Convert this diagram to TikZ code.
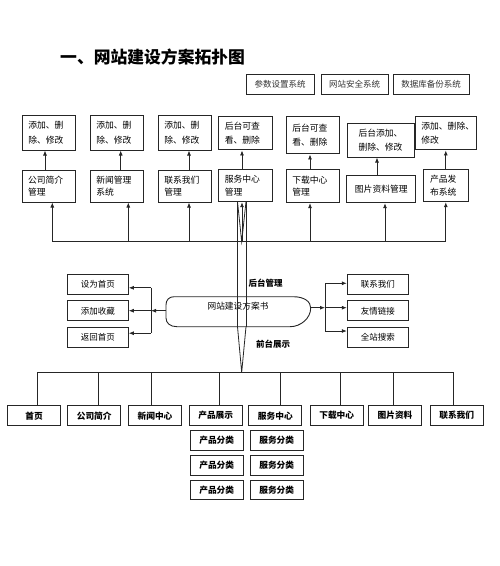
\documentclass[tikz,border=0pt]{standalone}
\usepackage{fontspec}
\setmainfont{Noto Sans CJK SC}
\usetikzlibrary{arrows.meta}
\begin{document}
\begin{tikzpicture}[x=1pt,y=-1pt,
  box/.style={draw=black!85, line width=1pt, inner sep=0pt},
  ta/.style={box, font=\fontsize{8.8}{14.5}\selectfont, align=left},
  tb/.style={box, font=\fontsize{8.8}{12.5}\selectfont, align=left},
  sbox/.style={box, font=\fontsize{8.5}{10}\selectfont, minimum height=20pt, text=black!80},
  bbox/.style={box, font=\bfseries\fontsize{8.7}{10}\selectfont, minimum width=53.3pt, minimum height=20pt},
  subbox/.style={box, font=\bfseries\fontsize{8.7}{10}\selectfont, minimum width=53.3pt, minimum height=19.5pt},
  lbl/.style={font=\bfseries\fontsize{8.5}{10}\selectfont, inner sep=0pt},
  ln/.style={draw=black!85, line width=0.8pt},
  arr/.style={ln, -{Latex[length=5pt,width=4pt]}}
]
\useasboundingbox (0,0) rectangle (500,566);

% title
\node[anchor=west, font=\bfseries\fontsize{16.8}{18}\selectfont, inner sep=0pt] (title) at (60,57.5) {一、网站建设方案拓扑图};

% top right systems
\node[sbox, minimum width=68pt] (s1) at (280,84) {参数设置系统};
\node[sbox, minimum width=67pt] (s2) at (354.5,84) {网站安全系统};
\node[sbox, minimum width=76pt] (s3) at (431,84) {数据库备份系统};

% row 1
\node[ta, minimum width=53.3pt, minimum height=35pt, text width=42pt] (a1) at (49.3,132.5) {添加、删\\除、修改};
\node[ta, minimum width=53.3pt, minimum height=35pt, text width=42pt] (a2) at (117.3,132.5) {添加、删\\除、修改};
\node[ta, minimum width=53.3pt, minimum height=35pt, text width=42pt] (a3) at (185.3,132.5) {添加、删\\除、修改};
\node[ta, minimum width=53.7pt, minimum height=33.3pt, text width=42pt] (a4) at (245.8,133.3) {后台可查\\看、删除};
\node[ta, minimum width=53.3pt, minimum height=37.3pt, text width=42pt] (a5) at (313.3,135.3) {后台可查\\看、删除};
\node[ta, align=center, minimum width=67pt, minimum height=34pt, text width=50pt] (a6) at (380.5,140) {后台添加、\\删除、修改};
\node[ta, minimum width=60.7pt, minimum height=33.3pt, text width=50pt] (a7) at (446.3,133.3) {添加、删除、\\修改};

% row 2
\node[tb, minimum width=52.7pt, minimum height=32pt, text width=42pt] (b1) at (49,186) {公司简介\\管理};
\node[tb, minimum width=53.3pt, minimum height=32pt, text width=42pt] (b2) at (117.3,186) {新闻管理\\系统};
\node[tb, minimum width=53.3pt, minimum height=32pt, text width=42pt] (b3) at (185.3,186) {联系我们\\管理};
\node[tb, minimum width=53.7pt, minimum height=32.4pt, text width=42pt] (b4) at (245.8,185.5) {服务中心\\管理};
\node[tb, minimum width=53.3pt, minimum height=32.7pt, text width=42pt] (b5) at (313.3,186.3) {下载中心\\管理};
\node[tb, align=center, minimum width=68.7pt, minimum height=27pt] (b6) at (381.3,189.2) {图片资料管理};
\node[tb, minimum width=45pt, minimum height=32.4pt, text width=31.6pt] (b7) at (445.8,185.5) {产品发\\布系统};

% row2 -> row1 arrows
\draw[arr] ([xshift=-4pt]b1.north) -- ([xshift=-4pt]b1.north |- a1.south);
\draw[arr] ([xshift=3.4pt]b2.north) -- ([xshift=3.4pt]b2.north |- a2.south);
\draw[arr] ([xshift=3.7pt]b3.north) -- ([xshift=3.7pt]b3.north |- a3.south);
\draw[arr] ([xshift=-3.8pt]b4.north) -- ([xshift=-3.8pt]b4.north |- a4.south);
\draw[arr] ([xshift=-3.3pt]b5.north) -- ([xshift=-3.3pt]b5.north |- a5.south);
\draw[arr] ([xshift=-4.3pt]b6.north) -- ([xshift=-4.3pt]b6.north |- a6.south);
\draw[arr] (b7.north) -- (b7.north |- a7.south);

% upper bus
\coordinate (busL) at (52.3,241.7);
\coordinate (busR) at (445.7,241.7);
\draw[ln] (busL) -- (busR);
\draw[arr] ([xshift=3.3pt]b1.south |- busL) -- ([xshift=3.3pt]b1.south);
\draw[arr] ([xshift=11pt]b2.south |- busL) -- ([xshift=11pt]b2.south);
\draw[arr] ([xshift=3.7pt]b3.south |- busL) -- ([xshift=3.7pt]b3.south);
\draw[arr] ([xshift=-3.8pt]b4.south |- busL) -- ([xshift=-3.8pt]b4.south);
\draw[arr] ([xshift=-3.3pt]b5.south |- busL) -- ([xshift=-3.3pt]b5.south);
\draw[arr] ([xshift=3.7pt]b6.south |- busL) -- ([xshift=3.7pt]b6.south);
\draw[arr] (b7.south |- busL) -- (b7.south);

% central plan shape
\node[font=\fontsize{8.7}{10}\selectfont, inner sep=0pt] (plan) at (238,306.5) {网站建设方案书};
\draw[ln, line width=0.9pt] (174,296.7) -- (293,296.7) .. controls (305,296.7) and (310.7,302) .. (310.7,308)
  .. controls (310.7,318) and (301,326.7) .. (290,326.7) -- (177,326.7)
  .. controls (170,326.7) and (166,323) .. (166,318) -- (166,305)
  .. controls (166,300) and (169,296.7) .. (174,296.7) -- cycle;

% double trunk lines
\coordinate (tL) at (237.5,201.7);
\coordinate (tR) at (246,201.7);
\coordinate (mL) at (237.5,326.7);
\coordinate (mR) at (246,326.7);
\coordinate (apU) at (241.7,241.7);
\coordinate (apD) at (241.7,372.3);
\draw[ln] (tL) -- (mL);
\draw[ln] (tR) -- (mR);
\draw[ln] (tL) -- (apU) -- (tR);
\draw[ln] (mL) -- (apD) -- (mR);

% labels
\node[lbl] (bg) at (265.5,283) {后台管理};
\node[lbl] (fg) at (273,344.3) {前台展示};

% left boxes
\node[sbox, text=black, minimum width=60.6pt] (l1) at (98,284.2) {设为首页};
\node[sbox, text=black, minimum width=60.6pt] (l2) at (98,310.9) {添加收藏};
\node[sbox, text=black, minimum width=60.6pt] (l3) at (98,337.2) {返回首页};
\coordinate (pW) at (166,310.7);
\coordinate (jL) at (151,310.7);
\coordinate (jLt) at (151,287.8);
\coordinate (jLb) at (151,333.2);
\draw[arr] (pW) -- (jL);
\draw[ln] (jLt) -- (jLb);
\draw[arr] (jLt) -- (jLt -| l1.east);
\draw[arr] (jL) -- (jL -| l2.east);
\draw[arr] (jLb) -- (jLb -| l3.east);

% right boxes
\node[sbox, text=black, minimum width=61pt] (r1) at (377.8,284.3) {联系我们};
\node[sbox, text=black, minimum width=61pt] (r2) at (377.8,310.9) {友情链接};
\node[sbox, text=black, minimum width=61pt] (r3) at (377.8,337.2) {全站搜索};
\coordinate (pE) at (310.7,307.7);
\coordinate (jR) at (325,307.7);
\coordinate (jRt) at (325,283.3);
\coordinate (jRb) at (325,331);
\draw[arr] (pE) -- (jR);
\draw[ln] (jRt) -- (jRb);
\draw[arr] (jRt) -- (jRt -| r1.west);
\draw[arr] (jR) -- (jR -| r2.west);
\draw[arr] (jRb) -- (jRb -| r3.west);

% bottom row
\node[bbox] (c1) at (34,415.7) {首页};
\node[bbox] (c2) at (94.2,415.7) {公司简介};
\node[bbox] (c3) at (155,415.7) {新闻中心};
\node[bbox] (c4) at (215.7,415.7) {产品展示};
\node[bbox] (c5) at (275.3,415.7) {服务中心};
\node[bbox] (c6) at (336.7,415.7) {下载中心};
\node[bbox] (c7) at (395,415.7) {图片资料};
\node[bbox] (c8) at (456.7,415.7) {联系我们};

\node[subbox] (p1) at (216.7,440.3) {产品分类};
\node[subbox] (p2) at (216.7,465.3) {产品分类};
\node[subbox] (p3) at (216.7,490) {产品分类};
\node[subbox] (q1) at (276.7,440.3) {服务分类};
\node[subbox] (q2) at (276.7,465.3) {服务分类};
\node[subbox] (q3) at (276.7,490) {服务分类};

% lower bus
\coordinate (bbL) at (37.3,372.3);
\coordinate (bbR) at (453.3,372.3);
\draw[ln] (bbL) -- (bbR);
\draw[ln] ([xshift=3.3pt]c1.north |- bbL) -- ([xshift=3.3pt]c1.north);
\draw[ln] ([xshift=4.1pt]c2.north |- bbL) -- ([xshift=4.1pt]c2.north);
\draw[ln] ([xshift=-3.3pt]c3.north |- bbL) -- ([xshift=-3.3pt]c3.north);
\draw[ln] ([xshift=3.3pt]c4.north |- bbL) -- ([xshift=3.3pt]c4.north);
\draw[ln] ([xshift=4.7pt]c5.north |- bbL) -- ([xshift=4.7pt]c5.north);
\draw[ln] ([xshift=3.3pt]c6.north |- bbL) -- ([xshift=3.3pt]c6.north);
\draw[ln] ([xshift=-1.7pt]c7.north |- bbL) -- ([xshift=-1.7pt]c7.north);
\draw[ln] ([xshift=-3.4pt]c8.north |- bbL) -- ([xshift=-3.4pt]c8.north);
\end{tikzpicture}
\end{document}
